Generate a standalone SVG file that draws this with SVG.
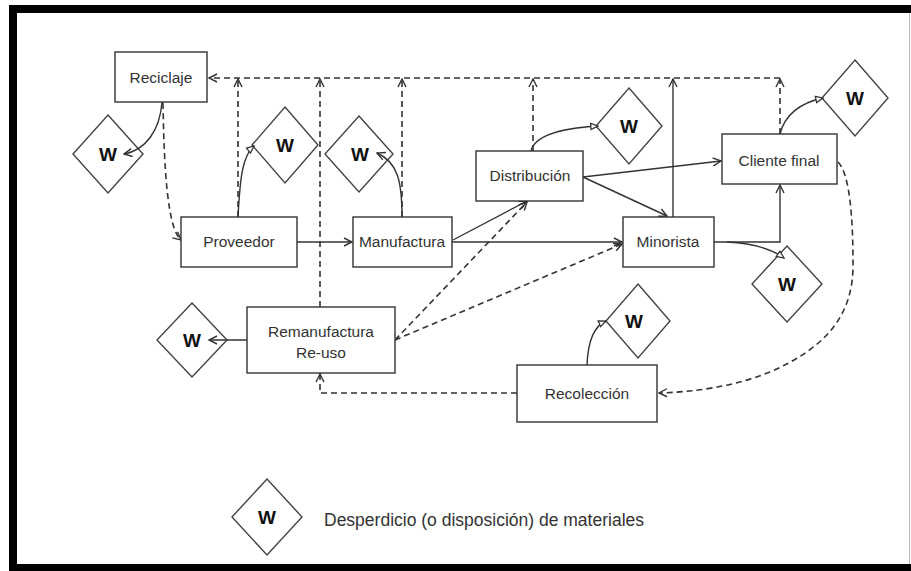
<svg xmlns="http://www.w3.org/2000/svg" width="911" height="571" viewBox="0 0 911 571">
  <defs>
    <style>
      .box { fill: #fff; stroke: #333; stroke-width: 1.4; }
      .dia { fill: #fff; stroke: #444; stroke-width: 1.4; }
      .lbl { font-family: "Liberation Sans", Arial, sans-serif; font-size: 15.5px; fill: #333; text-anchor: middle; }
      .w { font-family: "Liberation Sans", Arial, sans-serif; font-size: 19px; font-weight: bold; fill: #111; text-anchor: middle; }
      .leg { font-family: "Liberation Sans", Arial, sans-serif; font-size: 17.5px; fill: #333; }
      .solid { fill: none; stroke: #333; stroke-width: 1.4; }
      .dash { fill: none; stroke: #333; stroke-width: 1.6; stroke-dasharray: 6 4; }
      .chev { marker-end: url(#chev); }
      .tri { marker-end: url(#tri); }
    </style>
    <marker id="chev" viewBox="0 0 10 10" refX="9" refY="5" markerWidth="10" markerHeight="10" markerUnits="userSpaceOnUse" orient="auto">
      <path d="M1,1 L9,5 L1,9" fill="none" stroke="#333" stroke-width="1.4"/>
    </marker>
    <marker id="tri" viewBox="0 0 10 10" refX="9" refY="5" markerWidth="9" markerHeight="9" markerUnits="userSpaceOnUse" orient="auto">
      <path d="M1,1.5 L9,5 L1,8.5 Z" fill="#fff" stroke="#333" stroke-width="1.4"/>
    </marker>
  </defs>

  <!-- page frame -->
  <rect x="0" y="0" width="911" height="571" fill="#fff"/>
  <g id="frame">
    <rect x="9" y="5" width="902" height="8" fill="#000"/>
    <rect x="9" y="5" width="8" height="566" fill="#000"/>
    <rect x="9" y="564" width="902" height="7" fill="#000"/>
    <line x1="909.5" y1="13" x2="909.5" y2="564" stroke="#bbb" stroke-width="1"/>
  </g>

  <!-- waste nodes (drawn first so the incoming arrows stay visible) -->
  <g id="w-reciclaje">
    <polygon class="dia" points="108,115 143,154 108,193 73,154"/>
    <text class="w" x="108" y="161">W</text>
  </g>
  <g id="w-proveedor">
    <polygon class="dia" points="285,107 318,145 285,183 252,145"/>
    <text class="w" x="285" y="152">W</text>
  </g>
  <g id="w-manufactura">
    <polygon class="dia" points="359,116 393,154 359,192 325,154"/>
    <text class="w" x="360" y="161">W</text>
  </g>
  <g id="w-distribucion">
    <polygon class="dia" points="629,88 662,126 629,164 596,126"/>
    <text class="w" x="629" y="133">W</text>
  </g>
  <g id="w-cliente">
    <polygon class="dia" points="855,60 888,98 855,136 822,98"/>
    <text class="w" x="855" y="105">W</text>
  </g>
  <g id="w-minorista">
    <polygon class="dia" points="787,246 822,284 787,322 752,284"/>
    <text class="w" x="787" y="291">W</text>
  </g>
  <g id="w-recoleccion">
    <polygon class="dia" points="638,284 670,321 638,358 606,321"/>
    <text class="w" x="634" y="328">W</text>
  </g>
  <g id="w-remanufactura">
    <polygon class="dia" points="192,303 227,340 192,377 157,340"/>
    <text class="w" x="192" y="347">W</text>
  </g>

  <!-- connectors -->
  <g id="connectors">
    <!-- return line to recycling -->
    <path class="dash chev" d="M780,78 H209"/>
    <path class="dash chev" d="M238,217 V79"/>
    <path class="dash chev" d="M320,307 V79"/>
    <path class="dash chev" d="M402,217 V79"/>
    <path class="dash chev" d="M533,151 V79"/>
    <path class="dash chev" d="M780,134 V79"/>
    <path class="solid chev" d="M673,217 V79"/>

    <!-- forward flow -->
    <path class="dash chev" d="M163,103 C164,165 167,228 181,240"/>
    <path class="solid chev" d="M297,242 H352"/>
    <path class="solid chev" d="M452,242 H622"/>
    <path class="solid chev" d="M453,240 L527,201"/>
    <path class="solid chev" d="M583,177 L721,161"/>
    <path class="solid chev" d="M583,177 L667,216"/>
    <path class="solid chev" d="M714,242 H780 V185"/>

    <!-- reverse flow -->
    <path class="dash chev" d="M395,340 L527,202"/>
    <path class="dash chev" d="M395,340 L622,244"/>
    <path class="dash chev" d="M838,162 C850,174 853,220 853,263 C854,320 820,350 770,372 C730,388 690,392 659,393"/>
    <path class="dash chev" d="M517,393 H320 V374"/>

    <!-- waste outlets -->
    <path class="solid chev" d="M162,102 C160,130 146,150 124,154"/>
    <path class="solid tri" d="M238,217 C240,180 242,156 254,146"/>
    <path class="solid chev" d="M402,217 C402,182 398,162 377,153"/>
    <path class="solid tri" d="M531,151 C535,134 565,128 598,126"/>
    <path class="solid tri" d="M780,134 C785,114 800,103 823,98"/>
    <path class="solid tri" d="M727,242 C750,243 770,248 784,258"/>
    <path class="solid tri" d="M587,365 C588,340 594,326 606,321"/>
    <path class="solid chev" d="M247,340 H209"/>
  </g>

  <!-- process nodes -->
  <g id="reciclaje">
    <rect class="box" x="115" y="52" width="92" height="50"/>
    <text class="lbl" x="161" y="83">Reciclaje</text>
  </g>
  <g id="proveedor">
    <rect class="box" x="181" y="217" width="116" height="50"/>
    <text class="lbl" x="239" y="247">Proveedor</text>
  </g>
  <g id="manufactura">
    <rect class="box" x="353" y="217" width="99" height="50"/>
    <text class="lbl" x="402" y="247">Manufactura</text>
  </g>
  <g id="distribucion">
    <rect class="box" x="476" y="151" width="107" height="50"/>
    <text class="lbl" x="530" y="181">Distribución</text>
  </g>
  <g id="minorista">
    <rect class="box" x="623" y="217" width="91" height="50"/>
    <text class="lbl" x="668" y="247">Minorista</text>
  </g>
  <g id="cliente-final">
    <rect class="box" x="722" y="134" width="115" height="50"/>
    <text class="lbl" x="779" y="166">Cliente final</text>
  </g>
  <g id="remanufactura">
    <rect class="box" x="247" y="307" width="148" height="66"/>
    <text class="lbl" x="321" y="337">Remanufactura</text>
    <text class="lbl" x="321" y="358">Re-uso</text>
  </g>
  <g id="recoleccion">
    <rect class="box" x="517" y="365" width="140" height="57"/>
    <text class="lbl" x="587" y="399">Recolección</text>
  </g>

  <!-- legend -->
  <g id="legend">
    <polygon class="dia" points="267,479 302,517 267,555 232,517"/>
    <text class="w" x="267" y="524">W</text>
    <text class="leg" x="324" y="526">Desperdicio (o disposición) de materiales</text>
  </g>
</svg>
